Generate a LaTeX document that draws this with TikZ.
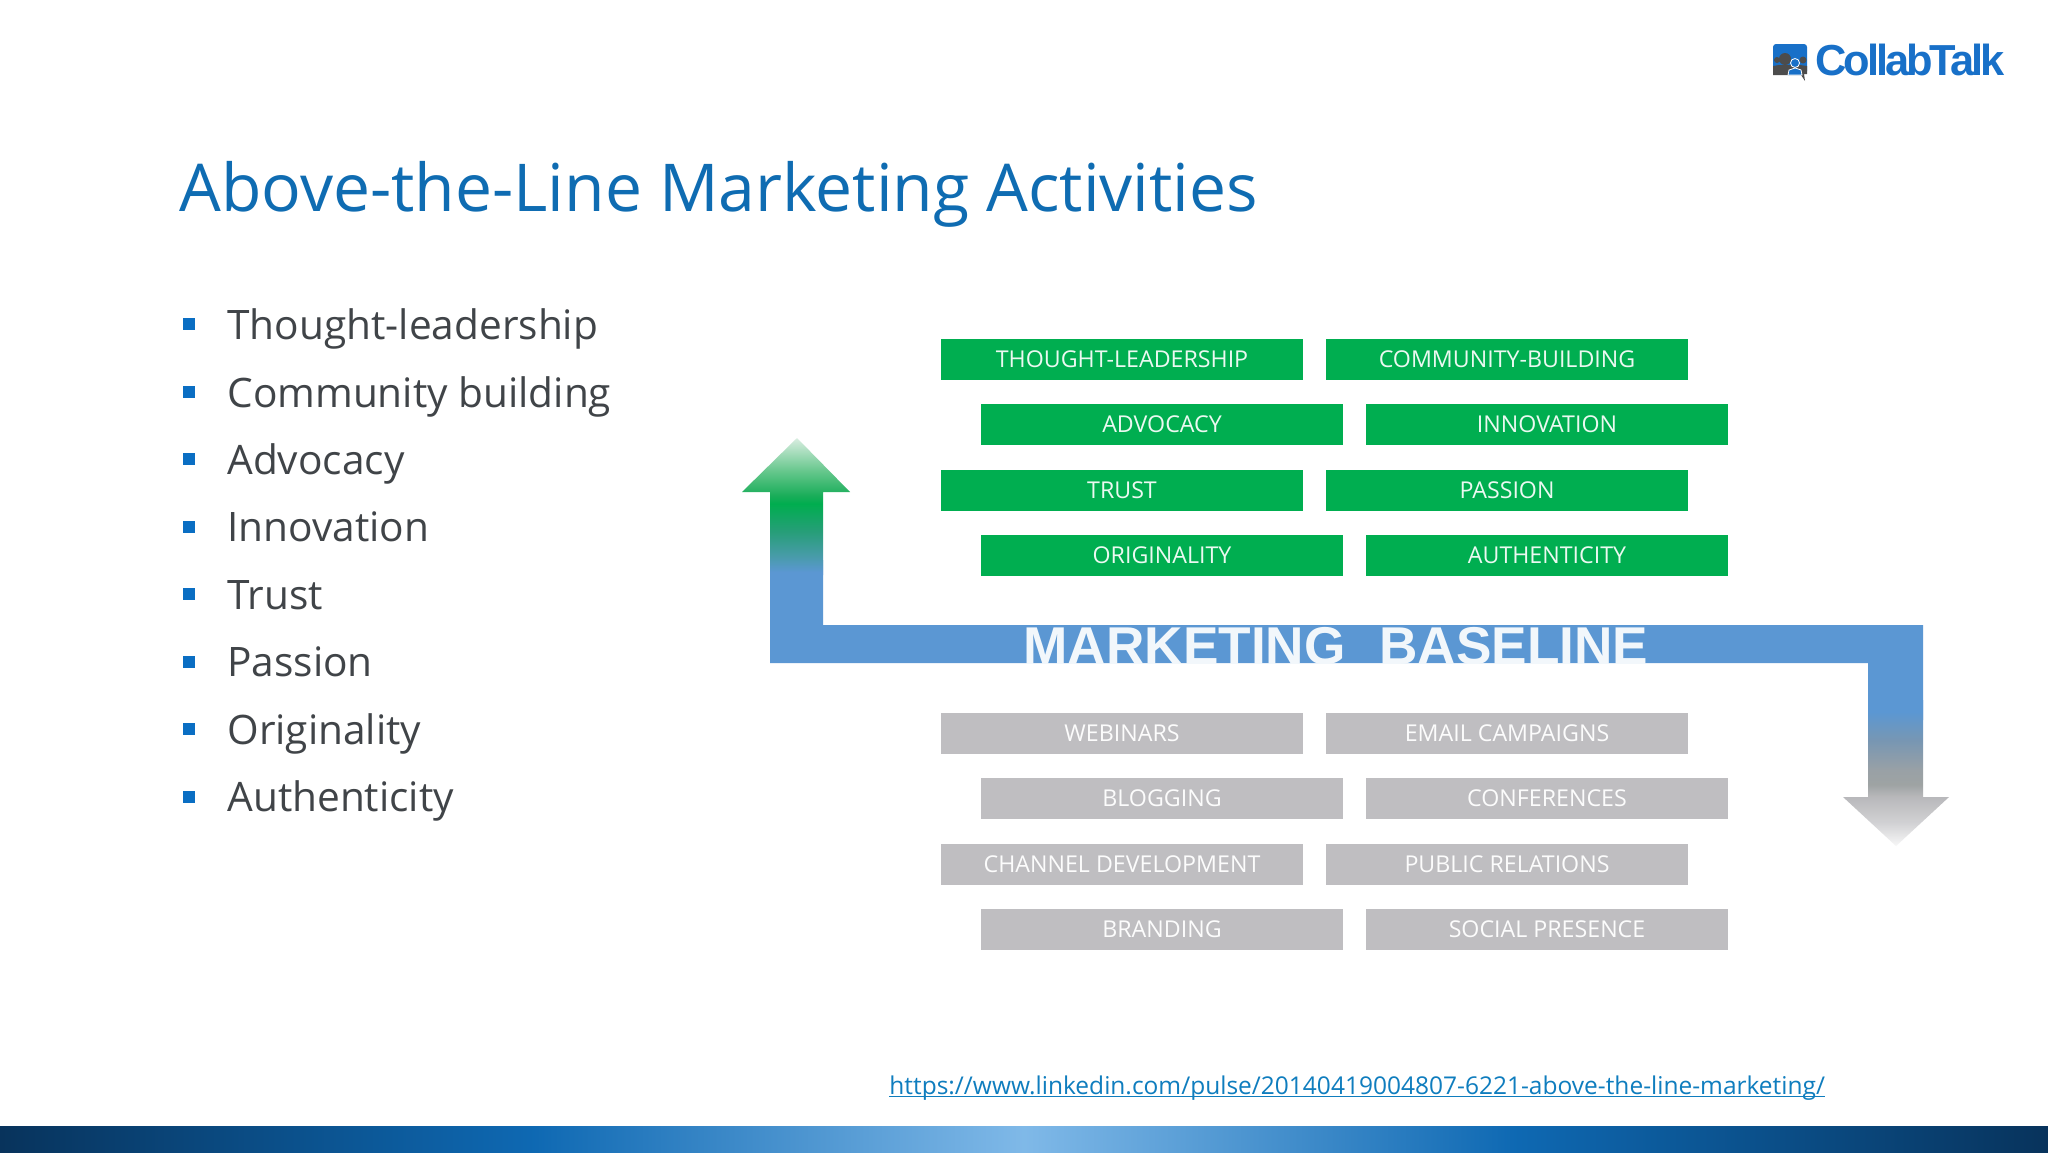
\documentclass[tikz,border=0pt]{standalone}
\usepackage{fontspec}
\setmainfont{Open Sans}
\newfontfamily\logofont{Liberation Sans}
\usepackage{xcolor}
\definecolor{mtitle}{RGB}{15,108,178}
\definecolor{mtext}{RGB}{64,68,72}
\definecolor{mbullet}{RGB}{10,110,195}
\definecolor{mlink}{RGB}{15,125,190}
\definecolor{mgreen}{RGB}{0,174,80}
\definecolor{mgrey}{RGB}{191,190,193}
\definecolor{mblue}{RGB}{91,151,211}
\definecolor{mlogo}{RGB}{24,112,200}
\pgfdeclareverticalshading{uparrow}{100bp}{
  rgb(0bp)=(.357,.592,.827); rgb(26bp)=(.357,.592,.827); rgb(32bp)=(.28,.61,.66); rgb(41bp)=(.15,.62,.47); rgb(51bp)=(0,.68,.31); rgb(54bp)=(.1,.68,.35); rgb(63bp)=(.4,.78,.55); rgb(75bp)=(.85,.93,.88); rgb(100bp)=(.85,.93,.88)}
\pgfdeclareverticalshading{downarrow}{100bp}{
  rgb(0bp)=(.97,.97,.97); rgb(25bp)=(.97,.97,.97); rgb(33bp)=(.82,.82,.83); rgb(42bp)=(.72,.72,.73); rgb(46bp)=(.62,.64,.64); rgb(51bp)=(.6,.63,.65); rgb(61bp)=(.47,.59,.7); rgb(71bp)=(.357,.592,.827); rgb(100bp)=(.357,.592,.827)}
\pgfdeclarehorizontalshading{bandshade}{100bp}{
  rgb(0bp)=(.03,.2,.36); rgb(25bp)=(.03,.2,.36); rgb(38bp)=(.055,.41,.7); rgb(50bp)=(.5,.725,.91); rgb(62bp)=(.055,.41,.7); rgb(75bp)=(.03,.2,.36); rgb(100bp)=(.03,.2,.36)}

\begin{document}
\begin{tikzpicture}[x=0.5pt,y=-0.5pt]
  \tikzset{greenbox/.style={fill=mgreen,text=white!92!mgreen,minimum width=181pt,minimum height=20.5pt,inner sep=0pt,font=\fontsize{11.6}{13}\selectfont},
    greybox/.style={greenbox,fill=mgrey,text=white!95!mgrey},
    bulletmark/.style={fill=mbullet,inner sep=0pt,minimum size=6pt},
    itemtext/.style={anchor=base west,inner sep=0pt,text=mtext,font=\fontsize{20.3}{24}\selectfont}}
  \useasboundingbox (0,0) rectangle (2048,1152);
  \fill[white] (0,0) rectangle (2048,1152);

  \node[anchor=base west,inner sep=0pt,text=mtitle,font=\fontsize{33}{38}\selectfont] (title) at (179,211) {Above-the-Line Marketing Activities};

  \node[bulletmark] (b1) at (189,324) {};
  \node[bulletmark] (b2) at (189,392) {};
  \node[bulletmark] (b3) at (189,459) {};
  \node[bulletmark] (b4) at (189,527) {};
  \node[bulletmark] (b5) at (189,594) {};
  \node[bulletmark] (b6) at (189,662) {};
  \node[bulletmark] (b7) at (189,729) {};
  \node[bulletmark] (b8) at (189,797) {};
  \node[itemtext] (t1) at (227,339) {Thought-leadership};
  \node[itemtext] (t2) at (227,407) {Community building};
  \node[itemtext] (t3) at (227,474) {Advocacy};
  \node[itemtext] (t4) at (227,541) {Innovation};
  \node[itemtext] (t5) at (227,609) {Trust};
  \node[itemtext] (t6) at (227,676) {Passion};
  \node[itemtext] (t7) at (227,744) {Originality};
  \node[itemtext] (t8) at (227,811) {Authenticity};

  % baseline band with its two arrows
  \fill[mblue] (770,663) -- (770,560) -- (823,560) -- (823,625) -- (1923,625) -- (1923,720) -- (1868,720) -- (1868,663) -- cycle;
  \shade[shading=uparrow] (797,438) -- (850,492) -- (823,492) -- (823,575) -- (770,575) -- (770,492) -- (742,492) -- cycle;
  \shade[shading=downarrow] (1868,700) -- (1923,700) -- (1923,797) -- (1949,797) -- (1896,846) -- (1843,797) -- (1868,797) -- cycle;
  \begin{scope}
    \clip (770,625) rectangle (1923,663);
    \node[anchor=base,inner sep=0pt,text=white!92!mblue,font=\logofont\bfseries\fontsize{26.6}{30}\selectfont] (baseline) at (1336,664) {MARKETING\hspace{9.5pt} BASELINE};
  \end{scope}

  \node[greenbox] (g1) at (1122,359) {THOUGHT-LEADERSHIP};
  \node[greenbox] (g2) at (1507,359) {COMMUNITY-BUILDING};
  \node[greenbox] (g3) at (1162,424) {ADVOCACY};
  \node[greenbox] (g4) at (1547,424) {INNOVATION};
  \node[greenbox] (g5) at (1122,490) {TRUST};
  \node[greenbox] (g6) at (1507,490) {PASSION};
  \node[greenbox] (g7) at (1162,555) {ORIGINALITY};
  \node[greenbox] (g8) at (1547,555) {AUTHENTICITY};

  \node[greybox] (w1) at (1122,733) {WEBINARS};
  \node[greybox] (w2) at (1507,733) {EMAIL CAMPAIGNS};
  \node[greybox] (w3) at (1162,798) {BLOGGING};
  \node[greybox] (w4) at (1547,798) {CONFERENCES};
  \node[greybox] (w5) at (1122,864) {CHANNEL DEVELOPMENT};
  \node[greybox] (w6) at (1507,864) {PUBLIC RELATIONS};
  \node[greybox] (w7) at (1162,929) {BRANDING};
  \node[greybox] (w8) at (1547,929) {SOCIAL PRESENCE};

  \node[anchor=base west,inner sep=0pt,text=mlink,font=\fontsize{12.25}{16}\selectfont] (link) at (889,1094) {\underbar{https://www.linkedin.com/pulse/20140419004807-6221-above-the-line-marketing/}};

  % bottom band
  \shade[shading=bandshade] (0,1126) rectangle (2048,1152);

  % logo
  \fill[mlogo,rounded corners=1.5pt] (1773,44) rectangle (1807,74);
  \fill[white] (1773,68) rectangle (1807,75);
  \fill[black!70] (1777,60) circle (3) (1803,60) circle (3.5) (1785,59) circle (6);
  \fill[black!70] (1773,75) -- (1773,66) -- (1779,65) -- (1791,65) -- (1800,65) -- (1807,66) -- (1807,74) -- (1804,74) -- (1805,81) -- (1801,75) -- cycle;
  \fill[mlogo,draw=white,line width=.4pt] (1795,63) circle (4.5);
  \fill[mlogo,draw=white,line width=.4pt] (1788,75) -- (1789,70) -- (1795,68) -- (1801,70) -- (1802,75) -- cycle;
  \node[anchor=base west,inner sep=0pt,text=mlogo,font=\logofont\bfseries\fontsize{21.7}{24}\selectfont] (logo) at (1815,75) {\addfontfeature{LetterSpace=-7}CollabTalk};
\end{tikzpicture}
\end{document}
